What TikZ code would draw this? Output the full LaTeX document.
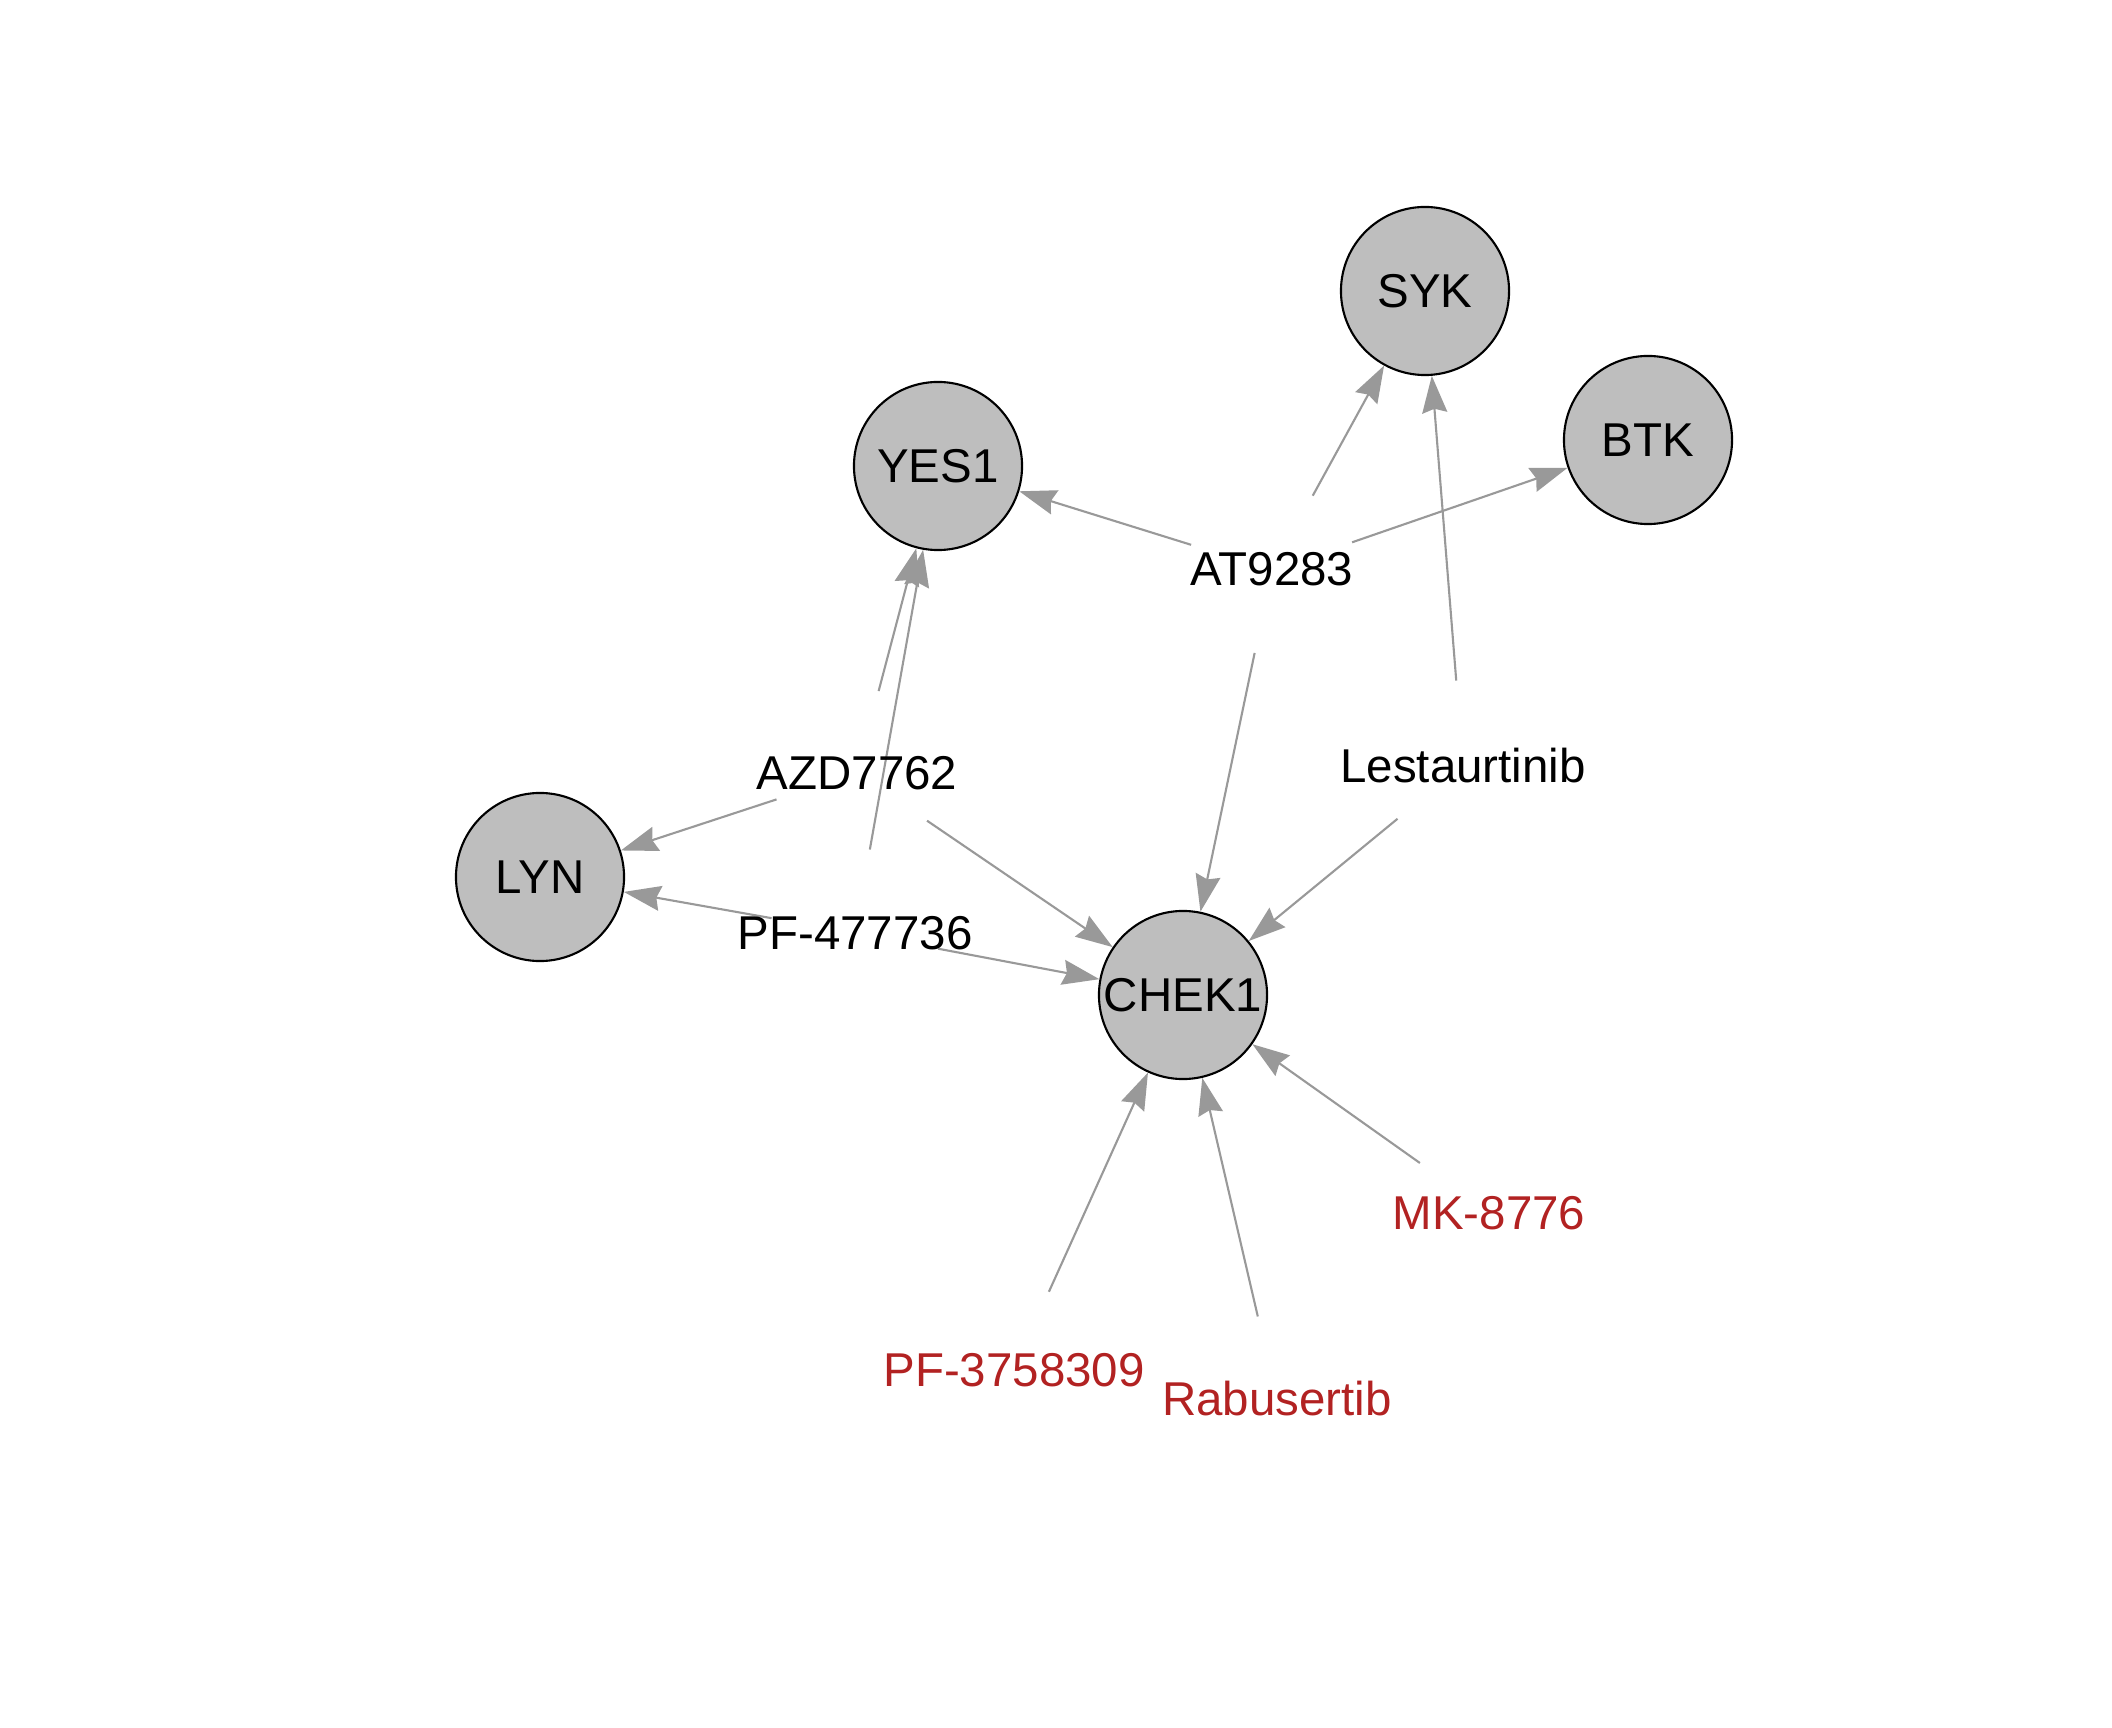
\documentclass[tikz,border=0pt]{standalone}
\usepackage{fontspec}
\setmainfont{Liberation Sans}
\usetikzlibrary{arrows.meta}
\definecolor{edgec}{HTML}{999999}
\definecolor{nodefill}{HTML}{BEBEBE}
\definecolor{drugred}{HTML}{B22222}
\begin{document}
\begin{tikzpicture}[x=0.01cm,y=-0.01cm,
  font=\fontsize{13.5pt}{16pt}\selectfont,
  gene/.style={circle,draw=black,line width=0.6pt,fill=nodefill,minimum size=1.68cm,inner sep=0pt},
  drug/.style={circle,draw=none,minimum size=1.68cm,inner sep=0pt},
  dtext/.style={anchor=base,inner sep=0pt,text=black},
  rtext/.style={anchor=base,inner sep=0pt,text=drugred},
  edge/.style={draw=edgec,line width=0.6pt,-{Stealth[length=0.37cm,width=0.25cm,inset=0.04cm]},fill=edgec}
]
\useasboundingbox (0,0) rectangle (2112,1728);
% gene nodes
\node[gene] (syk) at (1425,291) {SYK};
\node[gene] (btk) at (1648,440) {BTK};
\node[gene] (yes1) at (938,466) {YES1};
\node[gene] (lyn) at (540,877) {LYN};
\node[gene] (chek1) at (1183,995) {CHEK1};
% drug vertices (invisible)
\node[drug] (at) at (1272,570) {};
\node[drug] (les) at (1463,765) {};
\node[drug] (azd) at (857,773) {};
\node[drug] (pf4) at (855,933) {};
\node[drug] (mk) at (1489,1212) {};
\node[drug] (pf3) at (1014,1369) {};
\node[drug] (rab) at (1277,1399) {};
% edges
\draw[edge] (at) -- (yes1);
\draw[edge] (at) -- (syk);
\draw[edge] (at) -- (btk);
\draw[edge] (at) -- (chek1);
\draw[edge] (les) -- (syk);
\draw[edge] (les) -- (chek1);
\draw[edge] (azd) -- (yes1);
\draw[edge] (azd) -- (lyn);
\draw[edge] (azd) -- (chek1);
\draw[edge] (pf4) -- (yes1);
\draw[edge] (pf4) -- (lyn);
\draw[edge] (pf4) -- (chek1);
\draw[edge] (mk) -- (chek1);
\draw[edge] (pf3) -- (chek1);
\draw[edge] (rab) -- (chek1);
% drug labels
\node[dtext] (at-t) at (1272,586) {AT9283};
\node[dtext] (les-t) at (1463,782) {Lestaurtinib};
\node[dtext] (azd-t) at (857,789) {AZD7762};
\node[dtext] (pf4-t) at (855,949) {PF-477736};
\node[rtext] (mk-t) at (1489,1229) {MK-8776};
\node[rtext] (pf3-t) at (1014,1386) {PF-3758309};
\node[rtext] (rab-t) at (1277,1415) {Rabusertib};
\end{tikzpicture}
\end{document}
